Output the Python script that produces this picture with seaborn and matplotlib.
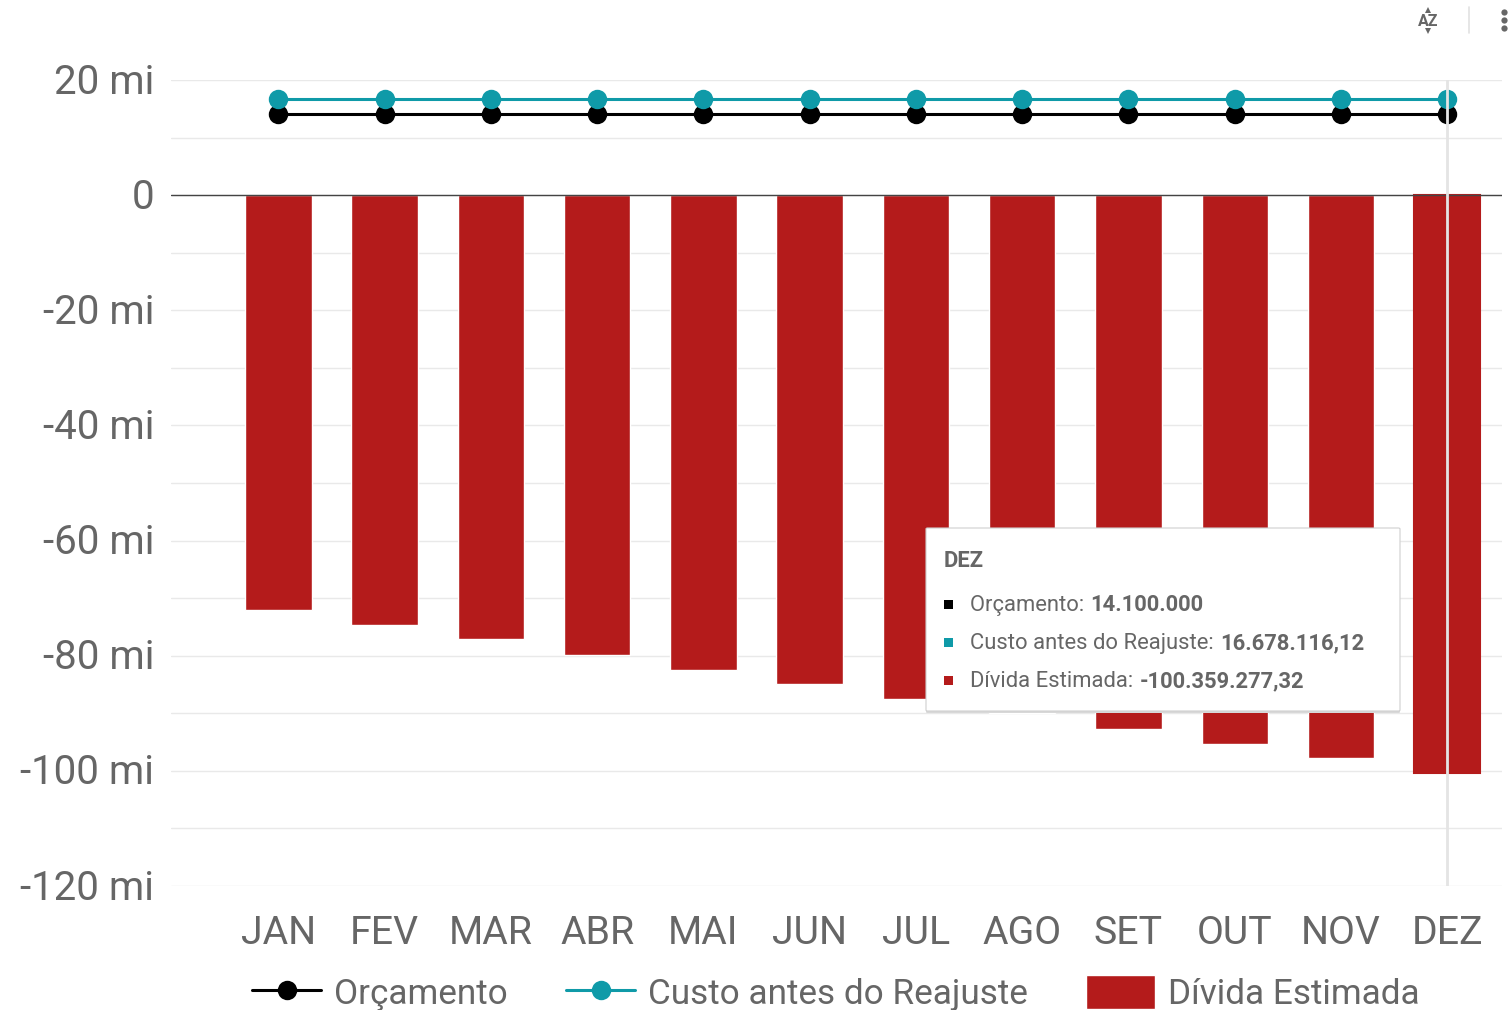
import pandas as pd
import seaborn as sns
import matplotlib.pyplot as plt
from matplotlib.patches import FancyBboxPatch, Rectangle
from matplotlib.transforms import ScaledTranslation

meses = ['JAN', 'FEV', 'MAR', 'ABR', 'MAI', 'JUN', 'JUL', 'AGO', 'SET', 'OUT', 'NOV', 'DEZ']
orcamento = [14.1] * 12
custo = [16.678] * 12
divida = [-72.0, -74.7, -77.1, -79.9, -82.5, -84.9, -87.5, -90.0, -92.7, -95.3, -97.8, -100.36]
y_ticks = [20, 0, -20, -40, -60, -80, -100, -120]
y_labels = ['20 mi', '0', '-20 mi', '-40 mi', '-60 mi', '-80 mi', '-100 mi', '-120 mi']
y_minor = [10, -10, -30, -50, -70, -90, -110]

PRETO = '#000000'
TEAL = '#0f9aa8'
VERMELHO = '#b41b1b'
CINZA = '#666666'
W, H = 1510, 1010

sns.set_theme(style='white')
plt.rcParams['font.family'] = ['Roboto', 'DejaVu Sans']

df = pd.DataFrame({'mes': meses, 'orcamento': orcamento, 'custo': custo, 'divida': divida})

fig = plt.figure(figsize=(W / 100, H / 100), dpi=100)
ax = fig.add_axes([171 / W, 1 - 886 / H, (1502 - 171) / W, (886 - 80) / H])

sns.barplot(data=df, x='mes', y='divida', color=VERMELHO, saturation=1, width=0.625,
            label='Dívida Estimada', ax=ax, zorder=2)
sns.lineplot(data=df, x='mes', y='orcamento', color=PRETO, linewidth=2.2, marker='o', markersize=14,
             markeredgewidth=0, label='Orçamento', ax=ax, zorder=3)
sns.lineplot(data=df, x='mes', y='custo', color=TEAL, linewidth=2.2, marker='o', markersize=14,
             markeredgewidth=0, label='Custo antes do Reajuste', ax=ax, zorder=4)

# barra de DEZ fica um pouco maior por causa do hover
ax.patches[11].set_edgecolor(VERMELHO)
ax.patches[11].set_linewidth(1.5)

ax.set_xlim(-1.01, 11.515)
ax.set_ylim(-120, 20)
ax.set_xlabel('')
ax.set_ylabel('')
ax.set_yticks(y_ticks)
ax.set_yticklabels(y_labels)
ax.set_yticks(y_minor, minor=True)
ax.grid(True, axis='y', which='both', color='#e9e9e9', linewidth=1)
ax.set_axisbelow(True)
ax.tick_params(axis='y', which='both', length=0, pad=12, labelsize=29, labelcolor=CINZA)
ax.tick_params(axis='x', length=0, pad=21, labelsize=28.3, labelcolor=CINZA)
for lab in ax.get_yticklabels():
    lab.set_transform(lab.get_transform() + ScaledTranslation(0, 2 / 100, fig.dpi_scale_trans))
for s in ax.spines.values():
    s.set_visible(False)
ax.axhline(0, color='#444444', linewidth=1, zorder=5)

# linha vertical do hover em DEZ
ax.axvline(11, color='#e4e4e4', linewidth=2, zorder=6)

# legenda
handles, labels = ax.get_legend_handles_labels()
ax.get_legend().remove()
ordem = [labels.index(n) for n in ['Orçamento', 'Custo antes do Reajuste', 'Dívida Estimada']]
fig.legend([handles[i] for i in ordem], [labels[i] for i in ordem], loc='center',
           bbox_to_anchor=(836 / W, 1 - 993 / H), ncol=3, frameon=False, fontsize=25.3,
           labelcolor=CINZA, handlelength=1.96, handleheight=1.1, handletextpad=0.37,
           columnspacing=1.66, borderpad=0, borderaxespad=0)


def px(x, y):
    return x / W, 1 - y / H


# tooltip
for off, cor in [(2, '#d8d8d8'), (0, '#ffffff')]:
    x0, y0 = px(926, 711 + off)
    fig.add_artist(FancyBboxPatch((x0, y0), (1400 - 926) / W, (711 - 528) / H,
                                  boxstyle='round,pad=0,rounding_size=0.001', transform=fig.transFigure,
                                  facecolor=cor, edgecolor='#d0d0d0' if off == 0 else 'none',
                                  linewidth=0.8, zorder=10))

fig.text(*px(944, 567), 'DEZ', fontsize=15.8, fontweight='bold', color=CINZA, va='baseline', zorder=11)
linhas = [(611, PRETO, 'Orçamento: ', '14.100.000', 1090),
          (649, TEAL, 'Custo antes do Reajuste: ', '16.678.116,12', 1220),
          (687, VERMELHO, 'Dívida Estimada: ', '-100.359.277,32', 1140)]
for y, cor, nome, valor, xv in linhas:
    x0, y0 = px(944, y - 2)
    fig.add_artist(Rectangle((x0, y0), 9 / W, 9 / H, transform=fig.transFigure, facecolor=cor,
                             edgecolor='none', zorder=11))
    fig.text(*px(970, y), nome, fontsize=15.8, color=CINZA, va='baseline', zorder=11)
    fig.text(*px(xv, y), valor, fontsize=15.8, fontweight='bold', color=CINZA, va='baseline', zorder=11)

# icones do canto
fig.text(*px(1428, 21), 'AZ', fontsize=11.5, fontweight='bold', color=CINZA, ha='center', va='center')
fig.add_artist(plt.Line2D([1428 / W], [1 - 10 / H], color=CINZA, marker='^', markersize=4, markeredgewidth=0, linestyle='none'))
fig.add_artist(plt.Line2D([1428 / W], [1 - 31 / H], color=CINZA, marker='v', markersize=4, markeredgewidth=0, linestyle='none'))
fig.add_artist(plt.Line2D([1469 / W, 1469 / W], [1 - 7 / H, 1 - 33 / H], color='#e2e2e2', linewidth=1.2))
fig.add_artist(plt.Line2D([1504 / W] * 3, [1 - 12 / H, 1 - 20 / H, 1 - 28 / H], color=CINZA, linestyle='none',
                          marker='o', markersize=4.5, markeredgewidth=0))

fig.savefig('out.png', dpi=100)
